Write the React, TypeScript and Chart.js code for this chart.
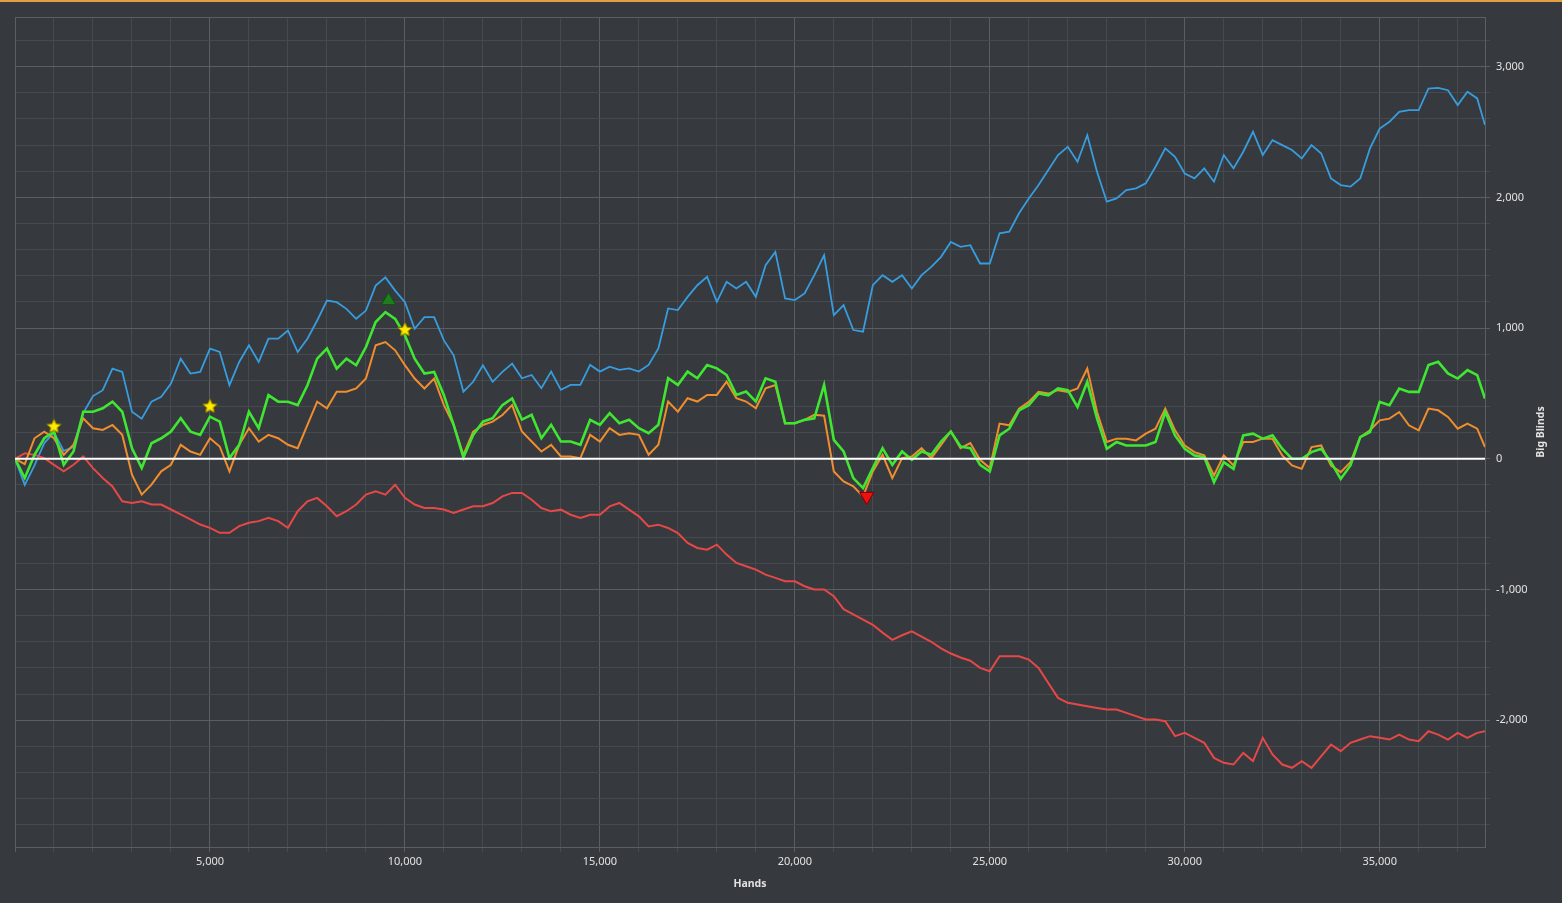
import React, { useEffect, useRef } from "react";
import { Chart, registerables } from "chart.js";

Chart.register(...registerables);

// ---------- data ----------
const hands = [
  0, 250, 500, 750, 1000, 1250, 1500, 1750, 2000, 2250, 2500, 2750, 3000, 3250, 3500, 3750,
  4000, 4250, 4500, 4750, 5000, 5250, 5500, 5750, 6000, 6250, 6500, 6750, 7000, 7250, 7500, 7750,
  8000, 8250, 8500, 8750, 9000, 9250, 9500, 9750, 10000, 10250, 10500, 10750, 11000, 11250, 11500, 11750,
  12000, 12250, 12500, 12750, 13000, 13250, 13500, 13750, 14000, 14250, 14500, 14750, 15000, 15250, 15500, 15750,
  16000, 16250, 16500, 16750, 17000, 17250, 17500, 17750, 18000, 18250, 18500, 18750, 19000, 19250, 19500, 19750,
  20000, 20250, 20500, 20750, 21000, 21250, 21500, 21750, 22000, 22250, 22500, 22750, 23000, 23250, 23500, 23750,
  24000, 24250, 24500, 24750, 25000, 25250, 25500, 25750, 26000, 26250, 26500, 26750, 27000, 27250, 27500, 27750,
  28000, 28250, 28500, 28750, 29000, 29250, 29500, 29750, 30000, 30250, 30500, 30750, 31000, 31250, 31500, 31750,
  32000, 32250, 32500, 32750, 33000, 33250, 33500, 33750, 34000, 34250, 34500, 34750, 35000, 35250, 35500, 35750,
  36000, 36250, 36500, 36750, 37000, 37250, 37500, 37700,
];

const netWon = [
  0, -200, -50, 120, 200, 60, 90, 350, 480, 525, 690, 665, 360, 307, 437, 475,
  576, 766, 652, 665, 843, 817, 563, 741, 868, 741, 919, 919, 982, 817, 919, 1058,
  1211, 1198, 1147, 1071, 1134, 1325, 1388, 1287, 1198, 995, 1084, 1084, 906, 792, 513, 589,
  716, 589, 665, 728, 616, 641, 540, 667, 527, 565, 565, 718, 667, 705, 680, 692,
  667, 718, 845, 1150, 1138, 1239, 1328, 1392, 1201, 1354, 1303, 1354, 1239, 1481, 1583, 1227,
  1214, 1265, 1405, 1557, 1099, 1176, 985, 972, 1328, 1405, 1354, 1405, 1303, 1405, 1468, 1545,
  1659, 1621, 1634, 1494, 1494, 1725, 1738, 1878, 1992, 2094, 2209, 2324, 2387, 2273, 2476, 2196,
  1967, 1992, 2056, 2069, 2107, 2234, 2375, 2311, 2183, 2145, 2222, 2120, 2324, 2222, 2349, 2502,
  2324, 2438, 2400, 2362, 2298, 2400, 2336, 2145, 2094, 2082, 2145, 2375, 2527, 2578, 2655, 2667,
  2667, 2833, 2838, 2820, 2706, 2808, 2757, 2553,
];

const allInAdjusted = [
  0, -147, 30, 157, 208, -46, 56, 360, 360, 386, 437, 360, 81, -71, 119, 157,
  208, 310, 208, 183, 322, 284, 5, 107, 360, 234, 487, 437, 437, 411, 563, 766,
  843, 690, 766, 716, 855, 1046, 1122, 1071, 944, 766, 652, 665, 487, 259, 10, 183,
  284, 310, 411, 462, 300, 336, 158, 260, 132, 132, 107, 298, 260, 349, 272, 298,
  234, 196, 260, 616, 565, 667, 616, 718, 692, 641, 489, 514, 438, 616, 590, 272,
  272, 298, 310, 565, 145, 56, -148, -224, -71, 81, -46, 56, -8, 56, 31, 132,
  209, 94, 81, -46, -97, 179, 230, 371, 410, 499, 486, 538, 525, 397, 589, 307,
  77, 128, 102, 102, 102, 128, 358, 179, 77, 26, 13, -179, -26, -77, 179, 192,
  154, 179, 77, 0, 0, 51, 77, -26, -154, -51, 166, 205, 435, 410, 538, 512,
  512, 717, 742, 653, 614, 678, 640, 461,
];

const showdownWon = [
  0, -40, 157, 208, 157, 30, 107, 310, 234, 221, 259, 183, -122, -274, -198, -96,
  -46, 107, 56, 30, 157, 94, -96, 107, 234, 132, 183, 157, 107, 81, 259, 437,
  386, 513, 513, 538, 614, 868, 893, 830, 716, 614, 538, 614, 411, 259, 30, 208,
  259, 284, 335, 411, 209, 132, 56, 107, 18, 18, 5, 183, 132, 234, 183, 196,
  183, 31, 107, 438, 361, 463, 438, 489, 489, 590, 463, 438, 387, 540, 565, 272,
  272, 298, 336, 330, -97, -173, -211, -288, -97, 31, -148, 5, 18, 81, 5, 107,
  209, 81, 120, -8, -71, 269, 256, 384, 435, 512, 499, 525, 512, 538, 691, 358,
  128, 154, 154, 141, 192, 230, 384, 218, 102, 51, 26, -128, 26, -51, 128, 128,
  154, 154, 26, -51, -77, 90, 102, -51, -102, -26, 166, 218, 294, 307, 358, 256,
  218, 384, 371, 320, 230, 269, 230, 90,
];

const nonShowdownWon = [
  0, 43, 30, 5, -46, -96, -46, 18, -71, -147, -211, -325, -338, -325, -350, -350,
  -388, -426, -464, -503, -528, -566, -566, -515, -490, -477, -452, -477, -528, -401, -325, -299,
  -363, -439, -401, -350, -274, -249, -274, -198, -299, -350, -376, -376, -388, -414, -388, -363,
  -363, -338, -287, -261, -262, -313, -377, -402, -389, -428, -453, -428, -428, -364, -338, -389,
  -440, -517, -504, -529, -568, -644, -682, -695, -657, -733, -797, -822, -848, -886, -911, -937,
  -937, -975, -1000, -1000, -1051, -1150, -1190, -1230, -1270, -1330, -1385, -1350, -1320, -1360, -1400, -1450,
  -1490, -1520, -1545, -1600, -1625, -1511, -1511, -1511, -1536, -1600, -1715, -1829, -1867, -1880, -1893, -1906,
  -1918, -1918, -1944, -1969, -1995, -1995, -2008, -2122, -2097, -2135, -2173, -2288, -2326, -2339, -2250, -2313,
  -2135, -2262, -2339, -2364, -2313, -2364, -2275, -2186, -2237, -2173, -2148, -2122, -2135, -2148, -2110, -2148,
  -2160, -2084, -2110, -2148, -2097, -2135, -2097, -2084,
];

// markers
const starHands = [1000, 5000, 10000];
const starBB = [250, 404, 990];
const peakHands = [9580];
const peakBB = [1211];
const lowHands = [21844];
const lowBB = [-288];

// axes
const xMin = 0;
const xMax = 37700;
const xGridStep = 1000;
const xLabelStep = 5000;
const yMin = -2970;
const yMax = 3380;
const yGridStep = 200;
const yLabelStep = 1000;
const xTitle = "Hands";
const yTitle = "Big Blinds";

// ---------- styles ----------
const BG = "#36393d";
const TOP_BAR = "#e2a042";
const GRID_MINOR = "#46494d";
const GRID_MAJOR = "#5b5e62";
const TEXT = "#e2e2e2";
const FONT = '"Noto Sans", "Open Sans", sans-serif';

function makeStar(size: number): HTMLCanvasElement {
  const c = document.createElement("canvas");
  c.width = size;
  c.height = size;
  const g = c.getContext("2d")!;
  const cx = size / 2;
  const cy = size / 2 + 0.5;
  const ro = size / 2 - 1;
  const ri = ro * 0.45;
  g.beginPath();
  for (let k = 0; k < 10; k++) {
    const r = k % 2 === 0 ? ro : ri;
    const a = -Math.PI / 2 + (k * Math.PI) / 5;
    const px = cx + r * Math.cos(a);
    const py = cy + r * Math.sin(a);
    if (k === 0) g.moveTo(px, py);
    else g.lineTo(px, py);
  }
  g.closePath();
  g.fillStyle = "#ffea00";
  g.fill();
  g.lineWidth = 0.8;
  g.strokeStyle = "rgba(110,95,0,0.9)";
  g.stroke();
  return c;
}

function pts(xs: number[], ys: number[]) {
  return xs.map((x, i) => ({ x, y: ys[i] }));
}

function fmt(v: number) {
  return Number(v).toLocaleString("en-US");
}

export default function App() {
  const ref = useRef<HTMLCanvasElement | null>(null);

  useEffect(() => {
    const canvas = ref.current;
    if (!canvas) return;
    const star = makeStar(17);

    const decor = {
      id: "decor",
      beforeDraw(chart: any) {
        const { ctx, width, height } = chart;
        ctx.save();
        ctx.fillStyle = BG;
        ctx.fillRect(0, 0, width, height);
        ctx.fillStyle = TOP_BAR;
        ctx.fillRect(0, 0, width, 2);
        ctx.restore();
      },
      beforeDatasetsDraw(chart: any) {
        const { ctx, chartArea } = chart;
        ctx.save();
        ctx.strokeStyle = GRID_MAJOR;
        ctx.lineWidth = 1;
        ctx.strokeRect(
          Math.round(chartArea.left) + 0.5,
          Math.round(chartArea.top) + 0.5,
          Math.round(chartArea.right - chartArea.left),
          Math.round(chartArea.bottom - chartArea.top)
        );
        ctx.restore();
      },
      afterDatasetsDraw(chart: any) {
        const { ctx, chartArea, scales } = chart;
        const y0 = scales.y.getPixelForValue(0);
        ctx.save();
        ctx.strokeStyle = "#ffffff";
        ctx.lineWidth = 2;
        ctx.beginPath();
        ctx.moveTo(chartArea.left, y0);
        ctx.lineTo(chartArea.right, y0);
        ctx.stroke();
        ctx.restore();
        // redraw markers on top of the zero line
        const meta = chart.getSortedVisibleDatasetMetas();
        meta.forEach((m: any) => {
          if (m.dataset && m.controller && (chart.data.datasets[m.index] as any).isMarker) {
            m.data.forEach((el: any) => el.draw(ctx, chartArea));
          }
        });
      },
      afterDraw(chart: any) {
        const { ctx, chartArea } = chart;
        ctx.save();
        ctx.fillStyle = TEXT;
        ctx.font = `bold 10.5px ${FONT}`;
        ctx.textAlign = "center";
        ctx.textBaseline = "middle";
        ctx.fillText(xTitle, (chartArea.left + chartArea.right) / 2, chartArea.bottom + 37);
        ctx.translate(chartArea.right + 56, (chartArea.top + chartArea.bottom) / 2);
        ctx.rotate(-Math.PI / 2);
        ctx.fillText(yTitle, 0, 0);
        ctx.restore();
      },
    };

    const gridColor = (step: number) => (ctx: any) =>
      ctx.tick && Math.abs(ctx.tick.value % step) < 1e-6 ? GRID_MAJOR : GRID_MINOR;

    const lineDs = (label: string, ys: number[], color: string, width: number, order: number) => ({
      label,
      data: pts(hands, ys),
      borderColor: color,
      backgroundColor: color,
      borderWidth: width,
      pointRadius: 0,
      tension: 0,
      fill: false,
      order,
    });

    const chart = new Chart(canvas, {
      type: "line",
      data: {
        datasets: [
          lineDs("Non-showdown Winnings", nonShowdownWon, "#e64848", 2, 4),
          lineDs("Net Won", netWon, "#379ddf", 1.8, 4),
          lineDs("Showdown Winnings", showdownWon, "#f08e2e", 2, 3),
          lineDs("All-in Adj", allInAdjusted, "#3fe632", 2.6, 2),
          {
            label: "Stars",
            isMarker: true,
            data: pts(starHands, starBB),
            showLine: false,
            pointStyle: star,
            pointRadius: 8,
            order: 1,
          } as any,
          {
            label: "Peak",
            isMarker: true,
            data: pts(peakHands, peakBB),
            showLine: false,
            pointStyle: "triangle",
            pointRadius: 8,
            backgroundColor: "#1f7d1f",
            borderColor: "#0e540e",
            borderWidth: 1,
            order: 1,
          } as any,
          {
            label: "Low",
            isMarker: true,
            data: pts(lowHands, lowBB),
            showLine: false,
            pointStyle: "triangle",
            rotation: 180,
            pointRadius: 8,
            backgroundColor: "#ee1111",
            borderColor: "#8c0000",
            borderWidth: 1,
            order: 1,
          } as any,
        ],
      },
      options: {
        animation: false,
        responsive: false,
        devicePixelRatio: 1,
        parsing: false as any,
        normalized: true,
        layout: { padding: { left: 15, top: 17, right: 0, bottom: 0 } },
        plugins: {
          legend: { display: false },
          tooltip: { enabled: false },
          title: { display: false },
        },
        events: [],
        scales: {
          x: {
            type: "linear",
            min: xMin,
            max: xMax,
            afterBuildTicks: (scale: any) => {
              const t: any[] = [];
              for (let v = xMin; v <= xMax; v += xGridStep) t.push({ value: v });
              scale.ticks = t;
            },
            afterFit: (scale: any) => {
              scale.height = 56;
            },
            grid: {
              color: gridColor(xLabelStep),
              tickColor: gridColor(xLabelStep),
              lineWidth: 1,
              drawTicks: true,
              tickLength: 5,
            },
            border: { display: true, color: GRID_MAJOR },
            ticks: {
              autoSkip: false,
              maxRotation: 0,
              minRotation: 0,
              padding: 3,
              color: TEXT,
              font: { family: FONT, size: 11 },
              callback: (v: any) => (Number(v) % xLabelStep === 0 && Number(v) !== 0 ? fmt(Number(v)) : ""),
            },
          },
          y: {
            type: "linear",
            position: "right",
            min: yMin,
            max: yMax,
            afterBuildTicks: (scale: any) => {
              const t: any[] = [];
              const start = Math.ceil(yMin / yGridStep) * yGridStep;
              for (let v = start; v <= yMax; v += yGridStep) t.push({ value: v });
              scale.ticks = t;
            },
            afterFit: (scale: any) => {
              scale.width = 77;
            },
            grid: {
              color: gridColor(yLabelStep),
              tickColor: gridColor(yLabelStep),
              lineWidth: 1,
              drawTicks: true,
              tickLength: 5,
            },
            border: { display: true, color: GRID_MAJOR },
            ticks: {
              autoSkip: false,
              padding: 6,
              color: TEXT,
              font: { family: FONT, size: 11 },
              callback: (v: any) => (Math.abs(Number(v) % yLabelStep) < 1e-6 ? fmt(Number(v)) : ""),
            },
          },
        },
      } as any,
      plugins: [decor as any],
    });

    return () => chart.destroy();
  }, []);

  return (
    <div style={{ position: "fixed", left: 0, top: 0, width: 1562, height: 903, background: BG }}>
      <canvas ref={ref} width={1562} height={903} style={{ display: "block", width: 1562, height: 903 }} />
    </div>
  );
}
